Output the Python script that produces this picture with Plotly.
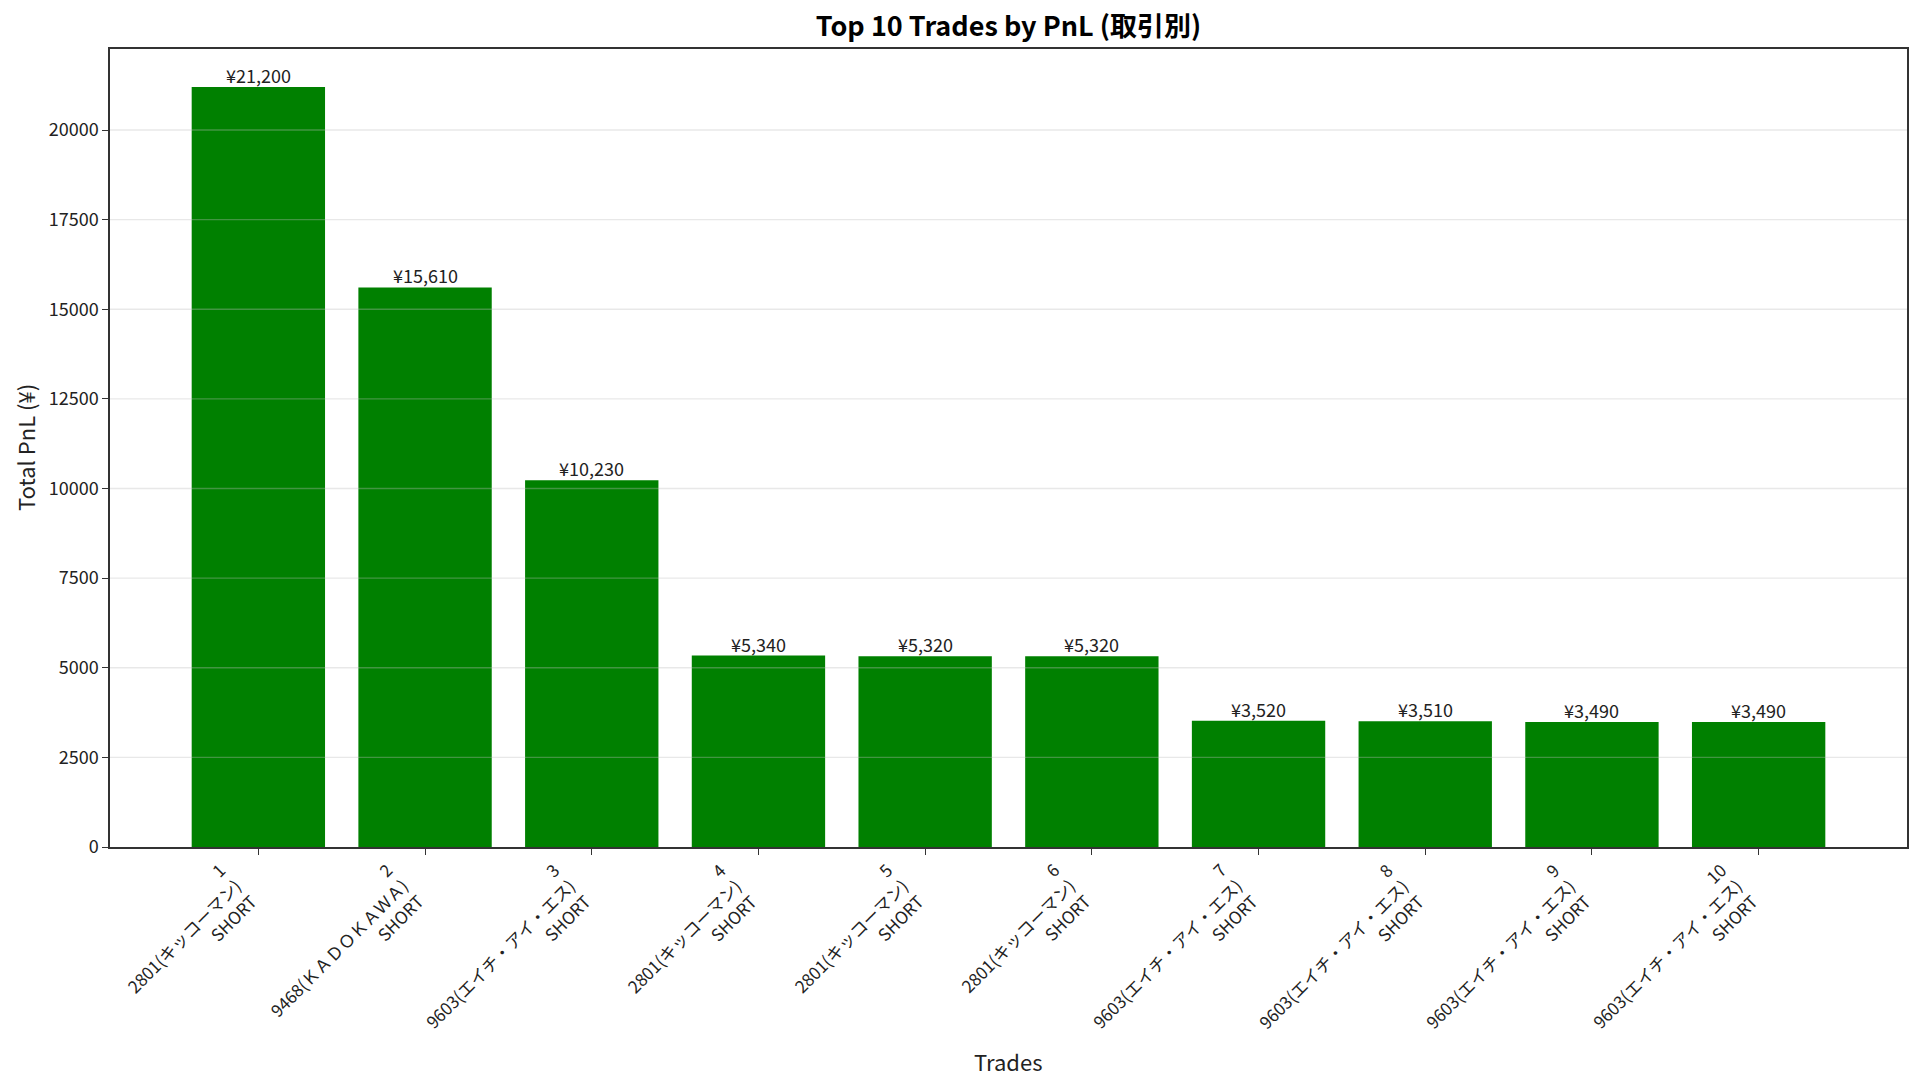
import plotly.graph_objects as go

ranks = [1, 2, 3, 4, 5, 6, 7, 8, 9, 10]
names = ["2801(キッコーマン)", "9468(ＫＡＤＯＫＡＷＡ)", "9603(エイチ・アイ・エス)",
         "2801(キッコーマン)", "2801(キッコーマン)", "2801(キッコーマン)",
         "9603(エイチ・アイ・エス)", "9603(エイチ・アイ・エス)",
         "9603(エイチ・アイ・エス)", "9603(エイチ・アイ・エス)"]
sides = ["SHORT"] * 10
pnl = [21200, 15610, 10230, 5340, 5320, 5320, 3520, 3510, 3490, 3490]
ytick_vals = [0, 2500, 5000, 7500, 10000, 12500, 15000, 17500, 20000]

FONT = "Noto Sans CJK JP"
xpos = list(range(len(pnl)))

fig = go.Figure()
fig.add_trace(go.Bar(
    x=xpos, y=pnl, width=0.8,
    marker=dict(color="#008000", line=dict(width=0)),
    hoverinfo="skip",
))

ymax = max(pnl) * 1.05
xmin = -0.4 - 0.049 * 10
xmax = 9.4 + 0.049 * 10

annotations = []
for i, v in enumerate(pnl):
    annotations.append(dict(
        x=xpos[i], y=v, xref="x", yref="y", text=f"¥{v:,}",
        showarrow=False, xanchor="center", yanchor="bottom", yshift=-3,
        font=dict(family=FONT, size=18, color="#222"),
    ))
    annotations.append(dict(
        x=xpos[i], y=0, xref="x", yref="paper",
        text=f"{ranks[i]}<br>{names[i]}<br>{sides[i]}",
        showarrow=False, xanchor="right", yanchor="top", align="right",
        textangle=-45, yshift=-8, xshift=6,
        font=dict(family=FONT, size=17, color="#222"),
    ))

annotations.append(dict(
    x=0.5, y=0, xref="paper", yref="paper", text="Trades", showarrow=False,
    xanchor="center", yanchor="middle", yshift=-(1061 - 847),
    font=dict(family=FONT, size=22, color="#222"),
))
annotations.append(dict(
    x=0, y=0.5, xref="paper", yref="paper", text="Total PnL (¥)", showarrow=False,
    xanchor="center", yanchor="middle", xshift=-(110 - 25), textangle=-90,
    font=dict(family=FONT, size=22, color="#222"),
))

shapes = []
for t in ytick_vals[1:]:
    shapes.append(dict(
        type="line", xref="paper", yref="y", x0=0, x1=1, y0=t, y1=t,
        line=dict(color="rgba(190,190,190,0.35)", width=1.3), layer="above",
    ))

fig.update_layout(
    width=1920, height=1089,
    margin=dict(l=110, r=13, t=49, b=242),
    paper_bgcolor="white", plot_bgcolor="white",
    showlegend=False,
    title=dict(text="<b>Top 10 Trades by PnL (取引別)</b>", x=0.5, xanchor="center",
               xref="paper", y=1 - 27 / 1089, yanchor="middle",
               font=dict(family=FONT, size=27, color="black")),
    xaxis=dict(
        range=[xmin, xmax], tickvals=xpos, ticktext=[""] * len(xpos),
        showgrid=False, zeroline=False, showline=True, mirror=True,
        linecolor="#333", linewidth=1.5, ticks="outside", ticklen=6,
        tickcolor="#333", tickwidth=1.2, automargin=False,
    ),
    yaxis=dict(
        range=[0, ymax], tickvals=ytick_vals, ticktext=[str(t) for t in ytick_vals],
        showgrid=False, zeroline=False, showline=True, mirror=True,
        linecolor="#333", linewidth=1.5, ticks="outside", ticklen=6,
        tickcolor="#333", tickwidth=1.2, automargin=False,
        tickfont=dict(family=FONT, size=18, color="#222"),
    ),
    annotations=annotations,
    shapes=shapes,
)

fig.write_html("out.html")
